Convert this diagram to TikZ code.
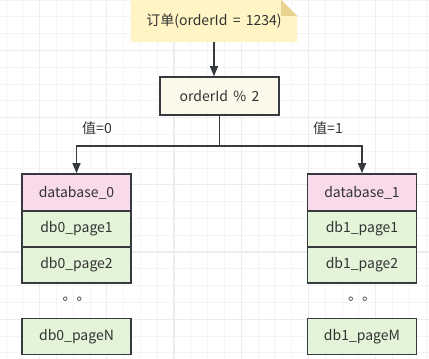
\documentclass[tikz,border=0pt]{standalone}
\usepackage{fontspec}
\setmainfont{Noto Sans CJK SC}[WordSpace=1.7]
\usepackage{xcolor}
\usetikzlibrary{arrows.meta, positioning, backgrounds, calc}
\definecolor{linegray}{HTML}{36393D}
\definecolor{textgray}{HTML}{333333}
\definecolor{gridminor}{HTML}{F4F4F4}
\definecolor{gridmajor}{HTML}{EDEDED}
\definecolor{notefill}{HTML}{FFF4C3}
\definecolor{foldfill}{HTML}{E8D490}
\definecolor{modfill}{HTML}{FCF8EA}
\definecolor{headpink}{HTML}{F9DAEA}
\definecolor{pagegreen}{HTML}{E4F4D8}
\tikzset{
  dbhead/.style={rectangle, minimum width=109pt, minimum height=37pt, text centered, draw=linegray, line width=1.6pt, fill=headpink, text=textgray},
  dbpage/.style={rectangle, minimum width=109pt, minimum height=36pt, text centered, draw=linegray, line width=1.6pt, fill=pagegreen, text=textgray},
  modbox/.style={rectangle, minimum width=119pt, minimum height=38pt, text centered, draw=linegray, line width=1.6pt, fill=modfill, text=textgray},
  notebox/.style={rectangle, minimum width=166pt, minimum height=42pt, text centered, text=textgray},
  lbl/.style={text=textgray},
  arrow/.style={line width=1.5pt, draw=linegray, -{Triangle[length=10pt,width=8pt]}},
  branch/.style={line width=1.5pt, draw=linegray}
}

\begin{document}
\begin{tikzpicture}[x=1pt, y=-1pt, every node/.style={font=\fontsize{14}{16}\selectfont}]
\useasboundingbox (0,0) rectangle (429,359);
% grid
\begin{scope}[on background layer]
\fill[white] (0,0) rectangle (429,359);
\foreach \gx in {0,...,25} \draw[gridminor, line width=0.9pt] ({6+16.8*\gx},0) -- ++(0,359);
\foreach \gy in {0,...,21} \draw[gridminor, line width=0.9pt] (0,{16.8*\gy}) -- ++(429,0);
\foreach \gx in {0,...,6} \draw[gridmajor, line width=1.2pt] ({39.6+67.2*\gx},0) -- ++(0,359);
\foreach \gy in {0,...,5} \draw[gridmajor, line width=1.2pt] (0,{50.4+67.2*\gy}) -- ++(429,0);
\end{scope}

\node[notebox] (note) at (214,21) {订单(orderId = 1234)};
\node[modbox] (mod) at (219.5,96) {orderId \% 2};

% left stack
\node[dbhead] (db0) at (76.5,192.5) {database\_0};
\node[dbpage, below=-1.6pt of db0] (db0p1) {db0\_page1};
\node[dbpage, below=-1.6pt of db0p1] (db0p2) {db0\_page2};
\node[dbpage, below=34pt of db0p2] (db0pN) {db0\_pageN};
\node[lbl, yshift=2pt] (db0dots) at ($(db0p2.south)!0.5!(db0pN.north)$) {。。};

% right stack
\node[dbhead] (db1) at (362,192.5) {database\_1};
\node[dbpage, below=-1.6pt of db1] (db1p1) {db1\_page1};
\node[dbpage, below=-1.6pt of db1p1] (db1p2) {db1\_page2};
\node[dbpage, below=34pt of db1p2] (db1pM) {db1\_pageM};
\node[lbl, yshift=2pt] (db1dots) at ($(db1p2.south)!0.5!(db1pM.north)$) {。。};

% note shape with folded corner
\begin{scope}[on background layer]
\fill[notefill] (note.north west) -- ([xshift=-16pt]note.north east) -- ([yshift=-16pt]note.north east) -- (note.south east) -- (note.south west) -- cycle;
\fill[foldfill] ([xshift=-16pt]note.north east) -- ([xshift=-16pt,yshift=-16pt]note.north east) -- ([yshift=-16pt]note.north east) -- cycle;
\end{scope}

\coordinate (split) at ($(mod.south)+(0,30)$);
\draw[arrow] (note.south) -- (note.south |- mod.north);
\draw[branch] (mod.south) -- (split);
\draw[arrow] (split) -| (db0.north);
\draw[arrow] (split) -| (db1.north);

\node[lbl] (val0) at (97,128) {值=0};
\node[lbl] (val1) at (328,128) {值=1};
\end{tikzpicture}
\end{document}
